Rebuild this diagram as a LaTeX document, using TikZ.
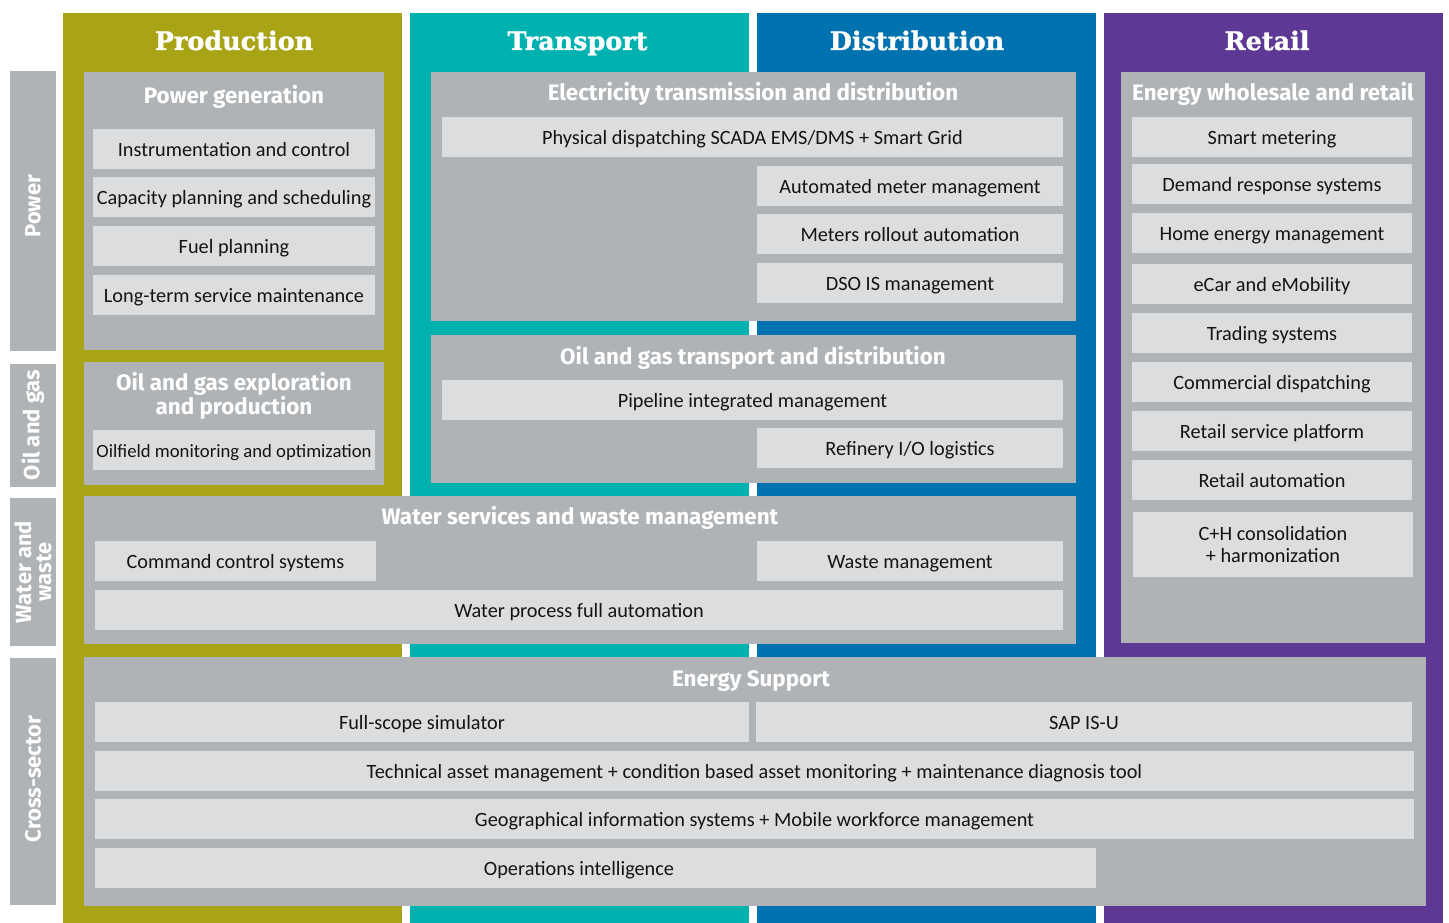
\documentclass[tikz,border=0pt]{standalone}
\usepackage{fontspec}
\setmainfont{Carlito}
\newfontfamily\subf{Fira Sans}
\newfontfamily\titf{DejaVu Serif}[BoldFeatures={FakeBold=1.2}]
\definecolor{cProd}{RGB}{169,164,22}
\definecolor{cTrans}{RGB}{0,178,175}
\definecolor{cDist}{RGB}{0,114,175}
\definecolor{cRet}{RGB}{93,56,148}
\definecolor{greyA}{RGB}{176,179,182}
\definecolor{greyL}{RGB}{220,221,223}
\definecolor{txt}{RGB}{20,20,20}
\newcommand\Bx[7]{\node[#2, inner sep=0pt, minimum width={(#5-#3)*1pt}, minimum height={(#6-#4)*1pt}] (#1) at ({(#3+#5)/2},{(#4+#6)/2}) {#7};}
\begin{document}
\begin{tikzpicture}[x=1pt,y=-1pt,
  colbox/.style={draw=none},
  grp/.style={fill=greyA},
  side/.style={fill=greyA},
  itm/.style={fill=greyL, text=txt, font=\fontsize{20.3}{22}\selectfont, text height=15pt, text depth=0pt},
  itm2/.style={fill=greyL, text=txt, font=\fontsize{20.3}{22}\selectfont, align=center},
  sidelbl/.style={rotate=90, text=white, font=\subf\bfseries\fontsize{22}{20}\selectfont, align=center, inner sep=0pt},
  gtitle/.style={anchor=base, text=white, font=\subf\bfseries\fontsize{22.4}{22.3}\selectfont, inner sep=0pt, align=center},
  ctitle/.style={anchor=base, text=white, font=\titf\bfseries\fontsize{25.5}{25}\selectfont, inner sep=0pt},
  plain/.style={text=txt, font=\fontsize{20.3}{22}\selectfont, anchor=base, inner sep=0pt}]
\useasboundingbox (0,0) rectangle (1449,923);
\fill[white] (0,0) rectangle (1449,923);
% columns
\Bx{colP}{colbox,fill=cProd}{63}{13}{402}{923}{}
\Bx{colT}{colbox,fill=cTrans}{410}{13}{749}{923}{}
\Bx{colD}{colbox,fill=cDist}{757}{13}{1096}{923}{}
\Bx{colR}{colbox,fill=cRet}{1104}{13}{1443}{923}{}
\node[ctitle] (tP) at (234,50) {Production};
\node[ctitle] (tT) at (577.5,50) {Transport};
\node[ctitle] (tD) at (917,50) {Distribution};
\node[ctitle] (tR) at (1267,50) {Retail};
% side bands
\Bx{sPow}{side}{10}{71}{56}{351}{}
\Bx{sOil}{side}{10}{364}{56}{487}{}
\Bx{sWat}{side}{10}{498}{56}{646}{}
\Bx{sCro}{side}{10}{658}{56}{905}{}
\node[sidelbl] (lPow) at (33,206) {Power};
\node[sidelbl] (lOil) at (33,425) {Oil and gas};
\node[sidelbl] (lWat) at (33,572) {Water and\\waste};
\node[sidelbl] (lCro) at (33,779) {Cross-sector};
% group containers
\Bx{pg}{grp}{84}{72}{384}{350}{}
\Bx{og}{grp}{84}{362}{384}{485}{}
\Bx{et}{grp}{431}{72}{1076}{321}{}
\Bx{ot}{grp}{431}{335}{1076}{483}{}
\Bx{ws}{grp}{84}{496}{1076}{644}{}
\Bx{ew}{grp}{1121}{72}{1425}{643}{}
\Bx{es}{grp}{84}{657}{1426}{906}{}
\node[gtitle] (pgT) at (234,103.5) {Power generation};
\node[gtitle, anchor=center] (ogT) at (234,396) {Oil and gas exploration\\and production};
\node[gtitle] (etT) at (753,100.7) {Electricity transmission and distribution};
\node[gtitle] (otT) at (753,364) {Oil and gas transport and distribution};
\node[gtitle] (wsT) at (580,524) {Water services and waste management};
\node[gtitle] (ewT) at (1273,100.7) {Energy wholesale and retail};
\node[gtitle] (esT) at (751,686.7) {Energy Support};
% production items
\Bx{ic}{itm}{93}{129}{375}{169}{Instrumentation and control}
\Bx{cp}{itm}{93}{177}{375}{217}{Capacity planning and scheduling}
\Bx{fp}{itm}{93}{226}{375}{266}{Fuel planning}
\Bx{ls}{itm}{93}{275}{375}{315}{Long-term service maintenance}
\Bx{om}{itm,font=\fontsize{18.7}{22}\selectfont}{93}{430}{375}{470}{Oilfield monitoring and optimization}
% electricity
\Bx{pd}{itm}{442}{117}{1063}{157}{Physical dispatching SCADA EMS/DMS + Smart Grid}
\Bx{am}{itm}{757}{166}{1063}{206}{Automated meter management}
\Bx{mr}{itm}{757}{214}{1063}{254}{Meters rollout automation}
\Bx{ds}{itm}{757}{263}{1063}{303}{DSO IS management}
% oil transport
\Bx{pi}{itm}{442}{380}{1063}{420}{Pipeline integrated management}
\Bx{rl}{itm}{757}{428}{1063}{468}{Refinery I/O logistics}
% water
\Bx{cc}{itm}{95}{541}{376}{581}{Command control systems}
\Bx{wm}{itm}{757}{541}{1063}{581}{Waste management}
\Bx{wp}{itm}{95}{590}{1063}{630}{Water process full automation}
% retail
\Bx{sm}{itm}{1132}{117}{1412}{157}{Smart metering}
\Bx{dr}{itm}{1132}{164}{1412}{204}{Demand response systems}
\Bx{he}{itm}{1132}{213}{1412}{253}{Home energy management}
\Bx{ec}{itm}{1132}{264}{1412}{304}{eCar and eMobility}
\Bx{ts}{itm}{1132}{313}{1412}{353}{Trading systems}
\Bx{cd}{itm}{1132}{362}{1412}{402}{Commercial dispatching}
\Bx{rs}{itm}{1132}{411}{1412}{451}{Retail service platform}
\Bx{ra}{itm}{1132}{460}{1412}{500}{Retail automation}
\Bx{ch}{itm2}{1133}{512}{1413}{577}{C+H consolidation\\+ harmonization}
% energy support
\Bx{fs}{itm}{95}{702}{749}{742}{Full-scope simulator}
\Bx{sap}{itm}{756}{702}{1412}{742}{SAP IS-U}
\Bx{ta}{itm}{95}{751}{1414}{791}{Technical asset management + condition based asset monitoring + maintenance diagnosis tool}
\Bx{gi}{itm}{95}{799}{1414}{839}{Geographical information systems + Mobile workforce management}
\Bx{oi}{itm}{95}{848}{1096}{888}{}
\node[plain] (oiT) at (579,875.5) {Operations intelligence};
\end{tikzpicture}
\end{document}
